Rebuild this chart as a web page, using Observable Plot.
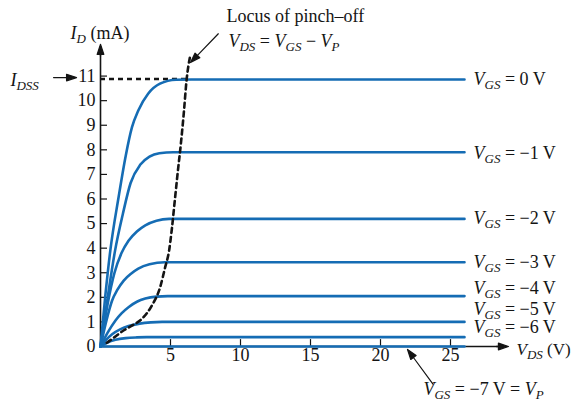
<!DOCTYPE html>
<html><head><meta charset="utf-8">
<script src="https://cdn.jsdelivr.net/npm/d3@7"></script>
<script src="https://cdn.jsdelivr.net/npm/@observablehq/plot@0.6"></script>
<style>html,body{margin:0;padding:0;background:#fff}svg{display:block}</style>
</head><body><div id="chart"></div>
<script>
// ---- data (VDS in V, ID in mA) ----
const vgsValues = [0, -1, -2, -3, -4, -5, -6, -7];
const curveVgs0 = [[0,0],[0.35,2.1],[0.7,3.9],[1.3,6.1],[1.8,7.75],[2.25,8.92],[2.7,9.6],[3.4,10.28],[4.25,10.69],[5.4,10.85],[6.5,10.86],[26,10.86]];
const curveVgs1 = [[0,0],[0.5,1.95],[1.04,3.9],[1.6,5.4],[2.15,6.65],[2.85,7.4],[3.5,7.72],[4.2,7.86],[5.2,7.9],[26,7.9]];
const curveVgs2 = [[0,0],[0.5,1.7],[1.0,3.0],[1.5,3.8],[2.0,4.3],[2.6,4.68],[3.2,4.93],[4.0,5.12],[4.9,5.19],[26,5.19]];
const curveVgs3 = [[0,0],[0.4,1.0],[0.83,1.87],[1.2,2.3],[1.66,2.68],[2.2,2.97],[2.7,3.17],[3.5,3.35],[4.6,3.43],[26,3.43]];
const curveVgs4 = [[0,0],[0.5,0.55],[1.07,1.06],[1.5,1.35],[2.0,1.6],[2.6,1.82],[3.2,1.95],[4.0,2.03],[4.8,2.05],[26,2.05]];
const curveVgs5 = [[0,0],[0.4,0.27],[0.83,0.5],[1.4,0.7],[2.0,0.83],[2.8,0.93],[3.6,0.98],[4.4,1.0],[26,1.0]];
const curveVgs6 = [[0,0],[0.5,0.16],[1.07,0.27],[1.8,0.34],[2.6,0.37],[3.3,0.38],[26,0.38]];
const curveVgs7 = [[0,0],[26,0]];
const pinchOffLocus = [[0.45,0.15],[1.0,0.38],[1.64,0.65],[2.3,0.87],[2.95,1.12],[3.67,1.67],[4.26,2.41],[4.62,3.23],[4.9,3.9],[5.1,4.8],[5.3,5.9],[5.5,7.0],[5.75,8.3],[5.95,9.5],[6.15,10.85],[6.4,11.8]];
const idss = 10.88;
const idssLocusVds = 6.15;
const curveLabels = ["V_GS = 0 V","V_GS = −1 V","V_GS = −2 V","V_GS = −3 V","V_GS = −4 V","V_GS = −5 V","V_GS = −6 V"];
const xTicks = [5, 10, 15, 20, 25];
const yTicks = [0,1,2,3,4,5,6,7,8,9,10,11];

// ---- styles / layout ----
const blue = "#156cb4";
const ink = "#141414";
const labelDy = [0, 1, -1, 0, -8, -13, -10];
const notes = [
  {text: "I_D (mA)", x: -2.14, y: 12.73, size: 18},
  {text: "I_DSS", x: -6.43, y: 10.82, size: 18},
  {text: "Locus of pinch–off", x: 9.0, y: 13.43, size: 18},
  {text: "V_DS = V_GS − V_P", x: 9.14, y: 12.41, size: 18},
  {text: "V_DS (V)", x: 29.72, y: -0.14, size: 17},
  {text: "V_GS = −7 V = V_P", x: 23.07, y: -1.74, size: 18}
];

const series = [curveVgs0, curveVgs1, curveVgs2, curveVgs3, curveVgs4, curveVgs5, curveVgs6, curveVgs7];
const rows = series.flatMap((pts, k) => pts.map(([v, i]) => ({v, i, vgs: vgsValues[k]})));
const locusRows = pinchOffLocus.map(([v, i]) => ({v, i}));
const labelRows = curveLabels.map((text, k) => {
  const last = series[k][series[k].length - 1];
  return {text, v: last[0], i: last[1], dy: labelDy[k]};
});

const arrowShape = {
  draw(ctx, l) {
    const h = 10, w = 3.3;
    ctx.moveTo(0, 0); ctx.lineTo(0, -l + h);
    ctx.moveTo(0, -l); ctx.lineTo(-w, -l + h); ctx.lineTo(w, -l + h); ctx.closePath();
  }
};
const arrow = (x, y, length, rotate, sw = 1.2) =>
  Plot.vector([{x, y}], {x: "x", y: "y", length, rotate, anchor: "end", shape: arrowShape, fill: ink, stroke: ink, strokeWidth: sw});

const font = "'Liberation Serif', 'Times New Roman', serif";

const svg = Plot.plot({
  width: 571, height: 401,
  marginLeft: 100, marginRight: 107, marginTop: 51, marginBottom: 55,
  x: {domain: [0, 26]},
  y: {domain: [0, 12]},
  style: {fontFamily: font, fontSize: "18px", color: ink, background: "#fff"},
  marks: [
    // axes
    Plot.ruleY([0], {x1: 0, x2: 28.5, stroke: ink, strokeWidth: 1.4}),
    Plot.ruleX([0], {y1: 0, y2: 11.95, stroke: ink, strokeWidth: 1.6}),
    arrow(29.14, 0, 12, 90, 1.3),
    arrow(0, 12.29, 12, 0, 1.3),
    Plot.ruleX(xTicks, {x: d => d, y1: 0, y2: 0.28, stroke: ink, strokeWidth: 1.2}),
    Plot.ruleY(yTicks.filter(d => d > 0), {y: d => d, x1: 0, x2: 0.5, stroke: ink, strokeWidth: 1.2}),
    Plot.axisX(xTicks, {tickSize: 0, tickPadding: 2, label: null, fontSize: 18, fill: ink}),
    Plot.axisY(yTicks, {tickSize: 0, tickPadding: 5, label: null, fontSize: 18, fill: ink}),
    // IDSS dashed level
    Plot.ruleY([idss], {x1: 0, x2: idssLocusVds, stroke: ink, strokeWidth: 2.4, strokeDasharray: "5,4"}),
    // characteristic curves
    Plot.line(rows, {x: "v", y: "i", z: "vgs", stroke: blue, strokeWidth: 2.6, curve: "monotone-x"}),
    // locus of pinch-off
    Plot.line(locusRows, {x: "v", y: "i", stroke: ink, strokeWidth: 2.6, strokeDasharray: "5,4", curve: "monotone-x"}),
    // curve labels
    ...labelRows.map(r => Plot.text([r], {x: "v", y: "i", dx: 9, dy: r.dy, text: "text", textAnchor: "start", fontSize: 18, fill: ink})),
    // annotations
    ...notes.map(n => Plot.text([n], {x: "x", y: "y", text: "text", textAnchor: "start", fontSize: n.size, fill: ink})),
    arrow(-1.71, 10.94, 23, 90),
    arrow(6.43, 11.55, 40, 224),
    arrow(21.93, -0.12, 43, 323.7)
  ]
});

// turn "V_GS" style markup into italic symbols with subscripts
const NS = "http://www.w3.org/2000/svg";
svg.querySelectorAll("text").forEach(t => {
  const s = t.textContent;
  if (!/[IV]_[A-Z]/.test(s)) return;
  while (t.firstChild) t.removeChild(t.firstChild);
  let shift = 0;
  const drop = 4;
  const add = (str, attrs) => {
    const ts = document.createElementNS(NS, "tspan");
    ts.textContent = str;
    for (const k in attrs) ts.setAttribute(k, attrs[k]);
    t.appendChild(ts);
  };
  const re = /([IV])_([A-Z]+)/g;
  let last = 0, m;
  while ((m = re.exec(s))) {
    if (m.index > last) { add(s.slice(last, m.index), shift ? {dy: -shift} : {}); shift = 0; }
    add(m[1], Object.assign({"font-style": "italic"}, shift ? {dy: -shift} : {}));
    shift = 0;
    add(m[2], {"font-style": "italic", "font-size": "13px", dy: drop});
    shift = drop;
    last = re.lastIndex;
  }
  if (last < s.length) add(s.slice(last), shift ? {dy: -shift} : {});
});

document.getElementById("chart").appendChild(svg);
</script>
</body></html>
